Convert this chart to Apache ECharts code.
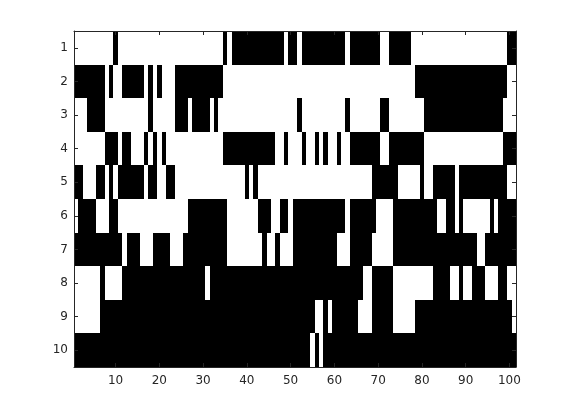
<!DOCTYPE html>
<html>
<head>
<meta charset="utf-8">
<style>html,body{margin:0;padding:0;background:#fff}#c{width:570px;height:413px}</style>
<script src="https://cdn.jsdelivr.net/npm/echarts@6/dist/echarts.min.js"></script>
</head>
<body>
<div id="c"></div>
<script>
// Black runs per row: [first column, last column]
const row1 = [[10,10],[35,35],[37,48],[50,51],[53,62],[64,70],[73,77],[100,101]];
const row2 = [[1,7],[9,9],[12,16],[18,18],[20,20],[24,34],[79,99]];
const row3 = [[4,7],[18,18],[24,26],[28,31],[33,33],[52,52],[63,63],[71,72],[81,98]];
const row4 = [[8,10],[12,13],[17,17],[19,19],[21,21],[35,46],[49,49],[53,53],[56,56],[58,58],[61,61],[64,70],[73,80],[99,101]];
const row5 = [[1,2],[6,7],[9,9],[11,16],[18,19],[22,23],[40,40],[42,42],[69,74],[80,80],[83,87],[89,99]];
const row6 = [[2,5],[9,10],[27,35],[43,45],[48,49],[51,62],[64,69],[74,83],[86,87],[89,89],[96,96],[98,101]];
const row7 = [[1,11],[13,15],[19,22],[26,35],[44,44],[47,47],[51,60],[64,68],[74,92],[95,101]];
const row8 = [[7,7],[12,30],[32,66],[69,73],[83,86],[89,89],[92,94],[98,99]];
const row9 = [[7,55],[58,58],[60,65],[69,73],[79,100]];
const row10 = [[1,54],[56,56],[58,101]];
const rows = [row1,row2,row3,row4,row5,row6,row7,row8,row9,row10];
const columnCount = 101;
const xTickLabels = ['10','20','30','40','50','60','70','80','90','100'];
const yTickLabels = ['1','2','3','4','5','6','7','8','9','10'];

const xCats = [];
for (let c = 1; c <= columnCount; c++) xCats.push(String(c));
const data = [];
rows.forEach((runs, r) => {
  runs.forEach(run => data.push([run[0] - 1, run[1] - 1, r]));
});
const showX = (i, v) => xTickLabels.indexOf(v) >= 0;
const ink = '#262626';
const xBase = {
  type: 'category', data: xCats, z: 5, axisLine: {show: true, onZero: false, lineStyle: {color: ink, width: 1}},
  axisTick: {show: true, inside: true, length: 4, alignWithLabel: true, interval: showX, lineStyle: {color: ink, width: 1}},
  splitLine: {show: false}
};
const yBase = {
  type: 'category', data: yTickLabels, inverse: true, z: 5, axisLine: {show: true, onZero: false, lineStyle: {color: ink, width: 1}},
  axisTick: {show: true, inside: true, length: 4, alignWithLabel: true, interval: 0, lineStyle: {color: ink, width: 1}},
  splitLine: {show: false}
};
function renderRun(params, api) {
  const a = api.coord([api.value(0), api.value(2)]);
  const b = api.coord([api.value(1), api.value(2)]);
  const s = api.size([1, 1]);
  const x0 = Math.round(a[0] - s[0] / 2), x1 = Math.round(b[0] + s[0] / 2);
  const y0 = Math.round(a[1] - s[1] / 2), y1 = Math.round(a[1] + s[1] / 2);
  return {type: 'rect', shape: {x: x0, y: y0, width: x1 - x0, height: y1 - y0}, style: {fill: '#000'}};
}
const chart = echarts.init(document.getElementById('c'), null, {renderer: 'canvas'});
chart.setOption({
  animation: false,
  backgroundColor: '#fff',
  grid: {left: 74, right: 54, top: 31, bottom: 46, containLabel: false},
  xAxis: [
    Object.assign({}, xBase, {position: 'bottom', axisLabel: {show: true, interval: showX, color: ink, fontFamily: 'DejaVu Sans', fontSize: 12, margin: 8}}),
    Object.assign({}, xBase, {position: 'top', axisLabel: {show: false}})
  ],
  yAxis: [
    Object.assign({}, yBase, {position: 'left', axisLabel: {show: true, interval: 0, color: ink, fontFamily: 'DejaVu Sans', fontSize: 12, margin: 6, padding: [2, 0, 0, 0]}}),
    Object.assign({}, yBase, {position: 'right', axisLabel: {show: false}})
  ],
  series: [{type: 'custom', data: data, xAxisIndex: 0, yAxisIndex: 0, renderItem: renderRun, encode: {x: [0, 1], y: 2}, silent: true, z: 1}]
});
</script>
</body>
</html>
